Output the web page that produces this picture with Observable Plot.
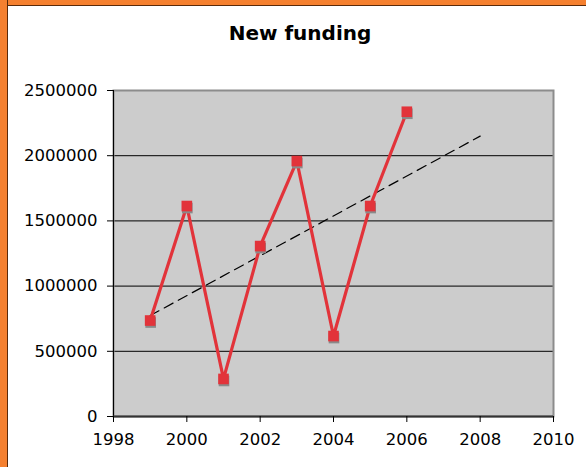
<!DOCTYPE html>
<html>
<head>
<meta charset="utf-8">
<script src="https://cdn.jsdelivr.net/npm/d3@7"></script>
<script src="https://cdn.jsdelivr.net/npm/@observablehq/plot@0.6"></script>
<style>
  html, body { margin: 0; padding: 0; background: #fff; }
  #wrap { position: relative; width: 586px; height: 467px; overflow: hidden; background: #fff; }
  #chart { position: absolute; left: 0; top: 0; }
  #title { position: absolute; left: 0; top: 21px; width: 600px; text-align: center;
           font-family: "DejaVu Sans", Verdana, sans-serif; font-weight: bold; font-size: 20px; color: #000; }
  .bl { position: absolute; left: 0; top: 0; width: 7px; height: 467px; background: #f5802f; border-right: 1px solid #5a2a0a; }
  .bt { position: absolute; left: 0; top: 0; width: 586px; height: 5px; background: #f5802f; border-bottom: 1px solid #5a2a0a; }
  #chart svg text { font-size: 16.5px; }
</style>
</head>
<body>
<div id="wrap">
  <div id="chart"></div>
  <div class="bt"></div>
  <div class="bl"></div>
  <div id="title">New funding</div>
</div>
<script>
const years = [1999, 2000, 2001, 2002, 2003, 2004, 2005, 2006];
const funding = [736000, 1614000, 288000, 1307000, 1959000, 617000, 1614000, 2337000];
const trendYears = [1999, 2008];
const trendValues = [774000, 2150000];
const xTicks = [1998, 2000, 2002, 2004, 2006, 2008, 2010];
const yTicks = [0, 500000, 1000000, 1500000, 2000000, 2500000];
const gridValues = [500000, 1000000, 1500000, 2000000];

const data = years.map((y, i) => ({year: y, value: funding[i]}));
const trend = trendYears.map((y, i) => ({year: y, value: trendValues[i]}));

const red = "#e2333a";

const plot = Plot.plot({
  width: 586,
  height: 467,
  marginLeft: 113,
  marginRight: 33,
  marginTop: 90,
  marginBottom: 51,
  style: {fontFamily: "DejaVu Sans, Verdana, sans-serif", fontSize: "16.5px", background: "transparent", color: "#000"},
  x: {domain: [1998, 2010]},
  y: {domain: [0, 2500000]},
  marks: [
    Plot.frame({fill: "#cccccc", stroke: null}),
    Plot.ruleY(gridValues, {stroke: "#000", strokeWidth: 1}),
    Plot.frame({stroke: "#8c8c8c", strokeWidth: 2, fill: null}),
    Plot.ruleX([1998], {stroke: "#000", strokeWidth: 1}),
    Plot.ruleY([0], {stroke: "#333", strokeWidth: 2}),
    Plot.axisY({ticks: yTicks, tickSize: 6, tickPadding: 10, tickFormat: d => String(d), label: null, stroke: "#000", fontSize: 16.5}),
    Plot.axisX({ticks: xTicks, tickSize: 6, tickPadding: 11, tickFormat: d => String(d), label: null, stroke: "#000", fontSize: 16.5}),
    Plot.line(trend, {x: "year", y: "value", stroke: "#000", strokeWidth: 1.2, strokeDasharray: "10,6"}),
    Plot.line(data, {x: "year", y: "value", stroke: red, strokeWidth: 3.2}),
    Plot.dot(data, {x: "year", y: "value", symbol: "square", r: 6, fill: "#8a8a8a", dy: 2, dx: 0.5}),
    Plot.dot(data, {x: "year", y: "value", symbol: "square", r: 6, fill: red})
  ]
});
document.getElementById("chart").appendChild(plot);
</script>
</body>
</html>
